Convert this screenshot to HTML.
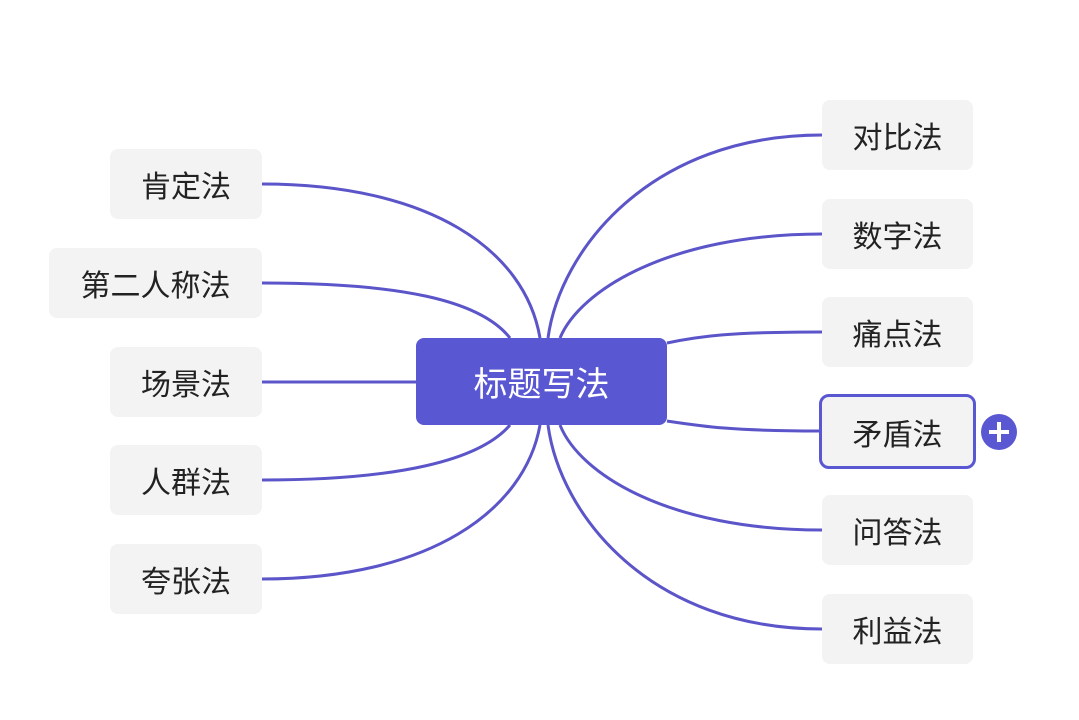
<!DOCTYPE html>
<html><head><meta charset="utf-8"><style>
body{margin:0;width:1079px;height:720px;background:#fff;position:relative;overflow:hidden;font-family:"Liberation Sans","Noto Sans CJK SC",sans-serif}
.n{position:absolute;background:#f3f3f3;border-radius:8px;display:flex;align-items:center;justify-content:center;font-size:30px;color:#222}
svg{position:absolute;left:0;top:0}
</style></head><body>
<svg width="1079" height="720">
<g fill="none" stroke="#5b55c9" stroke-width="3">
<path d="M262,184 C430,184 525,250 540,338"/>
<path d="M262,283 C400,283 480,300 510,338"/>
<path d="M262,382 L416,382"/>
<path d="M262,480 C400,480 480,460 510,425"/>
<path d="M262,579 C430,579 525,510 540,425"/>
<path d="M822,135 C650,135 560,250 548,338"/>
<path d="M822,234 C670,234 580,290 560,338"/>
<path d="M822,332 C730,332 700,336 667,343"/>
<path d="M819,431 C730,431 700,426 667,421"/>
<path d="M822,530 C670,530 580,475 560,425"/>
<path d="M822,629 C650,629 560,515 548,425"/>
</g>
<circle cx="999" cy="432" r="18" fill="#5a57d3"/>
<path d="M989,432 H1009 M999,422 V442" stroke="#fff" stroke-width="4"/>
</svg>
<div class="n" style="left:416px;top:338px;width:251px;height:87px;background:#5a57d3;color:#fff;font-size:34px">标题写法</div>
<div class="n" style="left:110px;top:149px;width:152px;height:70px">肯定法</div>
<div class="n" style="left:49px;top:248px;width:213px;height:70px">第二人称法</div>
<div class="n" style="left:110px;top:347px;width:152px;height:70px">场景法</div>
<div class="n" style="left:110px;top:445px;width:152px;height:70px">人群法</div>
<div class="n" style="left:110px;top:544px;width:152px;height:70px">夸张法</div>
<div class="n" style="left:822px;top:100px;width:151px;height:70px">对比法</div>
<div class="n" style="left:822px;top:199px;width:151px;height:70px">数字法</div>
<div class="n" style="left:822px;top:297px;width:151px;height:70px">痛点法</div>
<div class="n" style="left:819px;top:394px;width:151px;height:69px;border:3px solid #5a57d3;border-radius:10px">矛盾法</div>
<div class="n" style="left:822px;top:495px;width:151px;height:70px">问答法</div>
<div class="n" style="left:822px;top:594px;width:151px;height:70px">利益法</div>
</body></html>
